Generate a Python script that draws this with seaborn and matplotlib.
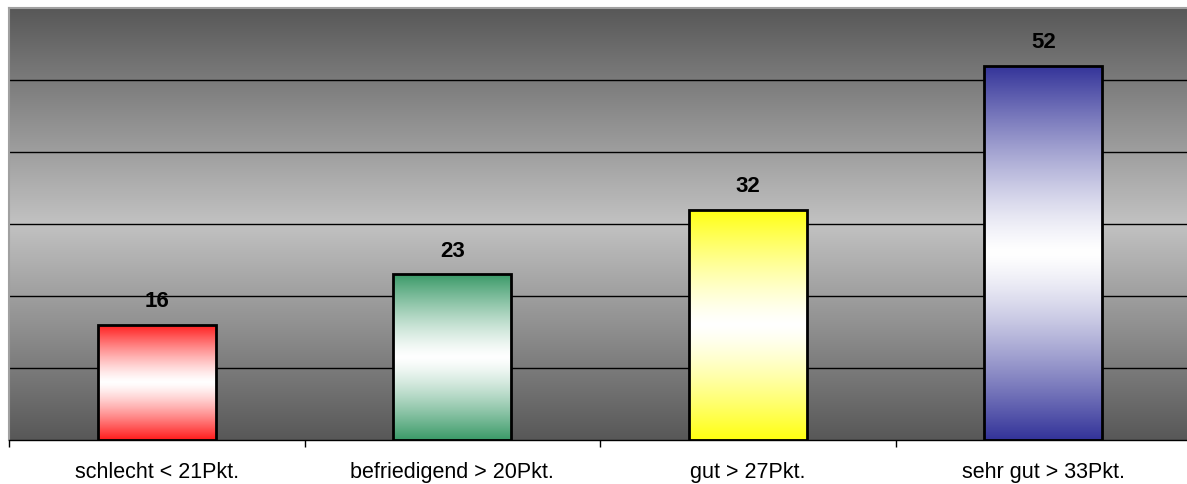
import numpy as np
import matplotlib
matplotlib.use("Agg")
import matplotlib.pyplot as plt
from matplotlib.colors import to_rgb
import seaborn as sns

# Punkteverteilung der Bewertungsstufen
categories = ["schlecht < 21Pkt.", "befriedigend > 20Pkt.", "gut > 27Pkt.", "sehr gut > 33Pkt."]
values = [16, 23, 32, 52]
bar_colors = ["#ff1a1a", "#3a9a68", "#ffff10", "#333399"]

sns.set_theme(style="white")
plt.rcParams["font.family"] = ["Liberation Sans", "DejaVu Sans"]

W, H = 1187, 484
fig = plt.figure(figsize=(W / 100, H / 100), dpi=100)
fig.patch.set_facecolor("white")
ax = fig.add_axes([9 / W, 44 / H, 1182 / W, 432 / H])

sns.barplot(x=categories, y=values, width=0.4, color="white",
            edgecolor="black", linewidth=2, saturation=1, ax=ax)

ymax = 60
xlo, xhi = -0.5, len(categories) - 0.5

# grey background: dark at top and bottom, light in the middle
t = np.linspace(0, 1, 400)
g = (0x58 + (0xc2 - 0x58) * (1 - np.abs(2 * t - 1))) / 255
bg = np.repeat(g[:, None], 3, axis=1)[:, None, :]
ax.imshow(bg, extent=[xlo, xhi, 0, ymax], aspect="auto", origin="lower",
          zorder=0, interpolation="bilinear")

# vertical colour -> white -> colour gradient inside each bar
for patch, col in zip(ax.patches, bar_colors):
    x0, y0 = patch.get_x(), patch.get_y()
    w, h = patch.get_width(), patch.get_height()
    s = np.abs(2 * t - 1) ** 1.3
    c = np.array(to_rgb(col))
    rgb = (1 - s)[:, None] * np.ones(3) + s[:, None] * c
    im = ax.imshow(rgb[:, None, :], extent=[x0, x0 + w, y0, y0 + h],
                   aspect="auto", origin="lower", zorder=2.5,
                   interpolation="bilinear")
    im.set_clip_path(patch)
    patch.set_facecolor("none")
    patch.set_zorder(3)
    ax.annotate(f"{h:.0f}", (x0 + w / 2, y0 + h), xytext=(0, 12.5),
                textcoords="offset points", ha="center", va="baseline",
                fontsize=16, fontweight="bold", color="black", zorder=4)

ax.set_xlim(xlo, xhi)
ax.set_ylim(0, ymax)

# horizontal grid lines
ax.set_yticks(np.arange(10, ymax, 10))
ax.yaxis.grid(True, color="black", linewidth=1)
ax.set_axisbelow(True)
for gl in ax.get_ygridlines():
    gl.set_zorder(1)
ax.tick_params(axis="y", left=False, labelleft=False)

# category labels centred, tick marks at category boundaries
ax.set_xticks(range(len(categories)))
ax.set_xticklabels(categories, fontsize=15.5)
ax.set_xticks(np.arange(-0.5, len(categories) - 0.5, 1), minor=True)
ax.tick_params(axis="x", which="major", length=0, pad=15.5, colors="black")
ax.tick_params(axis="x", which="minor", bottom=True, length=5, width=1,
               color="black", direction="out")
ax.set_xlabel("")
ax.set_ylabel("")

ax.spines["bottom"].set_color("black")
ax.spines["bottom"].set_linewidth(1)
ax.spines["left"].set_color("#a0a0a0")
ax.spines["left"].set_linewidth(1.5)
ax.spines["top"].set_color("#a0a0a0")
ax.spines["top"].set_linewidth(1.5)
ax.spines["right"].set_visible(False)

fig.savefig("out.png", dpi=100)
